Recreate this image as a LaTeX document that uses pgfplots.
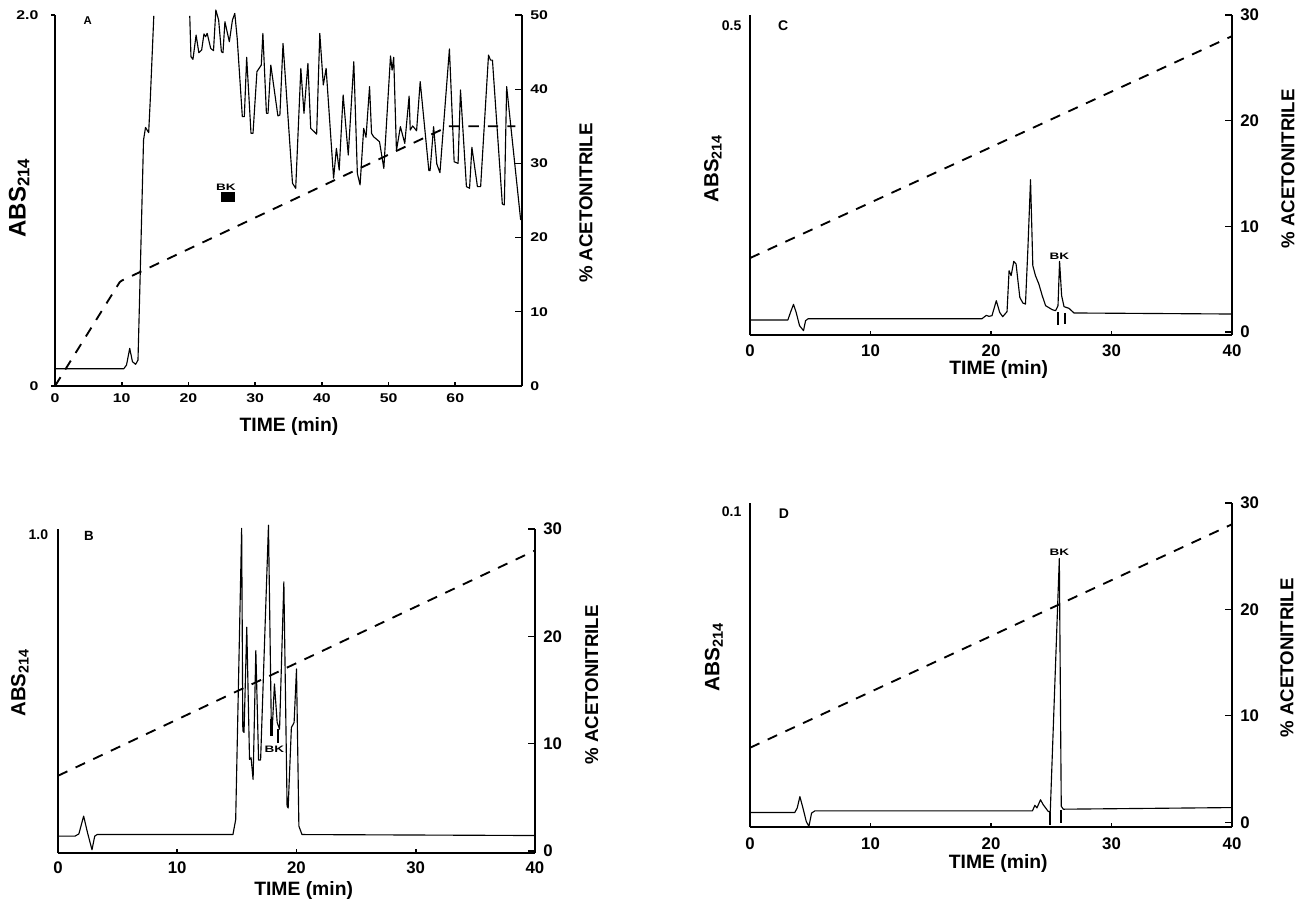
\documentclass[border=0pt]{standalone}
\usepackage{pgfplots}
\pgfplotsset{compat=1.18}
\usepackage{fontspec}
\setmainfont{Liberation Sans}
\newcommand{\fs}[1]{\fontsize{#1}{#1}\selectfont\bfseries}
\tikzset{
 bk/.style={font=\fs{7pt},xscale=1.45,transform shape,inner sep=0pt},
 letter/.style={font=\fs{#1},inner sep=0pt},
 trace/.style={black,line width=0.85pt,line join=round},
 grad/.style={black,line width=1.4pt,dash pattern=on 7.8pt off 6.8pt},
 arrowbar/.style={black,line width=1.6pt}
}
\pgfplotsset{
 lft/.style={scale only axis, clip=false, anchor=south west, no markers,
  axis y line*=left, axis x line*=bottom,
  axis line style={line width=1.5pt,-,black},
  xtick pos=bottom, ytick pos=left, xtick align=inside, ytick align=outside,
  x tick style={line width=1.2pt,black,/pgfplots/major tick length=3pt},
  y tick style={line width=0.8pt,black,/pgfplots/major tick length=0pt},
  yticklabel style={inner sep=0pt,xshift=-2pt},
  xticklabel style={inner sep=0pt}},
 rgt/.style={scale only axis, clip=false, anchor=south west, no markers,
  axis x line=none, axis y line*=right,
  axis line style={line width=1.5pt,-,black},
  ytick pos=right, ytick align=inside,
  y tick style={line width=1pt,black,/pgfplots/major tick length=5pt},
  yticklabel style={inner sep=0pt}}
}
\begin{document}
\begin{tikzpicture}
\path (0,0) rectangle (981.75pt,-677.25pt);

%% ---------- Panel A ----------
\begin{axis}[lft, at={(41.25pt,-289.5pt)}, width=350.25pt, height=278.25pt,
  xmin=0,xmax=70,ymin=0,ymax=2,
  xtick={0,10,20,30,40,50,60}, xticklabels={0,10,20,30,40,50,60},
  ytick={0,2}, yticklabels={0,2.0},
  y tick style={line width=0.8pt,black,/pgfplots/major tick length=3pt},
  ticklabel style={font=\fs{9.5pt}},
  yticklabel style={xshift=-6pt,xscale=1.25,transform shape},
  xticklabel style={yshift=-5.6pt,xscale=1.25,transform shape},
  xlabel={TIME (min)}, ylabel={ABS\textsubscript{214}},
  xlabel style={font=\fs{14.5pt},at={(axis description cs:0.501,-0.108)},anchor=center},
  ylabel style={font=\fs{18pt},at={(axis description cs:-0.077,0.507)},anchor=center}]
\addplot[trace] coordinates {(0,0.093)(10.31,0.093)(10.72,0.113)(11.2,0.203)(11.61,0.131)(12.09,0.117)(12.44,0.14)(12.8,0.643)(13.27,1.326)(13.57,1.394)(14.04,1.366)(14.28,1.542)(14.81,1.995)};
\addplot[trace] coordinates {(20.2,1.995)(20.38,1.775)(20.68,1.761)(21.15,1.892)(21.56,1.797)(21.98,1.811)(22.33,1.898)(22.57,1.883)(22.81,1.901)(23.34,1.82)(23.76,1.808)(24.11,2.027)(24.53,1.973)(24.94,1.802)(25.18,1.797)(25.47,1.964)(26.13,1.856)(26.6,1.973)(26.95,2.009)(27.31,1.874)(28.08,1.452)(28.38,1.452)(28.73,1.772)(29.38,1.362)(29.68,1.362)(30.27,1.695)(30.92,1.73)(31.16,1.901)(31.69,1.47)(31.93,1.47)(32.35,1.73)(33.41,1.456)(33.71,1.461)(34.18,1.847)(35.6,1.093)(36.08,1.066)(36.85,1.712)(37.32,1.47)(37.91,1.739)(38.33,1.389)(39.22,1.358)(39.69,1.901)(40.22,1.623)(40.64,1.712)(41.76,1.12)(42.18,1.281)(42.6,1.164)(43.19,1.569)(43.96,1.245)(44.79,1.748)(45.32,1.146)(45.73,1.084)(46.27,1.389)(46.62,1.341)(47.15,1.614)(47.45,1.362)(47.75,1.344)(48.64,1.317)(49.29,1.173)(50.29,1.779)(50.53,1.703)(50.77,1.772)(51.18,1.269)(51.77,1.398)(52.43,1.308)(53.08,1.563)(53.25,1.38)(53.61,1.402)(54.2,1.376)(54.74,1.641)(56.04,1.161)(56.22,1.161)(56.75,1.398)(57.23,1.197)(57.7,1.15)(59.12,1.817)(59.83,1.209)(60.42,1.2)(60.78,1.596)(61.67,1.075)(62.14,1.066)(62.49,1.287)(63.32,1.075)(63.8,1.075)(64.98,1.784)(65.28,1.757)(65.57,1.757)(67.05,0.981)(67.35,0.976)(67.7,1.614)(69.8,0.895)};
\addplot[black,line width=7.5pt] coordinates {(24.85,1.017)(26.95,1.017)};
\node[letter=8.5pt] at (axis cs:4.9,1.968) {A};
\node[bk] at (axis cs:25.6,1.069) {BK};
\end{axis}
\begin{axis}[rgt, at={(41.25pt,-289.5pt)}, width=350.25pt, height=278.25pt,
  xmin=0,xmax=70,ymin=0,ymax=50,
  ytick={0,10,20,30,40,50}, yticklabels={0,10,20,30,40,50},
  yticklabel style={font=\fs{9.5pt},xshift=6pt,xscale=1.25,transform shape},
  ylabel={\% ACETONITRILE},
  ylabel style={font=\fs{14pt},at={(axis description cs:1.137,0.493)},anchor=center}]
\addplot[grad] coordinates {(0,0)(9.7,14)(10,14.2)(59,35)(69,35)};
\end{axis}

%% ---------- Panel B ----------
\begin{axis}[lft, at={(43.5pt,-639.75pt)}, width=357.75pt, height=243pt,
  xmin=0,xmax=40,ymin=0,ymax=1,
  xtick={0,10,20,30,40}, xticklabels={0,10,20,30,40},
  ytick={1}, yticklabels={1.0},
  ticklabel style={font=\fs{12.6pt}},
  yticklabel style={font=\fs{10.5pt},yshift=-4.5pt,xshift=-1pt},
  xticklabel style={yshift=-6pt},
  xlabel={TIME (min)}, ylabel={ABS\textsubscript{214}},
  xlabel style={font=\fs{14.5pt},at={(axis description cs:0.515,-0.116)},anchor=center},
  ylabel style={font=\fs{15.3pt},at={(axis description cs:-0.08,0.525)},anchor=center}]
\addplot[trace] coordinates {(0,0.052)(1.42,0.052)(1.75,0.059)(2.15,0.114)(2.48,0.062)(2.85,0.01)(3.08,0.052)(3.28,0.057)(14.67,0.057)(14.9,0.103)(15.4,1.002)(15.5,0.377)(15.6,0.372)(15.83,0.697)(16.06,0.289)(16.19,0.294)(16.36,0.227)(16.59,0.625)(16.82,0.287)(16.99,0.287)(17.65,1.012)(17.88,0.413)(17.98,0.393)(18.15,0.522)(18.38,0.403)(18.58,0.382)(18.94,0.837)(19.21,0.145)(19.3,0.139)(19.57,0.387)(19.8,0.403)(20.0,0.568)(20.2,0.083)(20.46,0.057)(40,0.054)};
\addplot[arrowbar] coordinates {(17.9,0.413)(17.9,0.362)};
\addplot[arrowbar] coordinates {(18.48,0.382)(18.48,0.341)};
\node[letter=10pt] at (axis cs:2.6,0.978) {B};
\node[bk] at (axis cs:18.15,0.32) {BK};
\end{axis}
\begin{axis}[rgt, at={(43.5pt,-639.75pt)}, width=357.75pt, height=243pt,
  xmin=0,xmax=40,ymin=-0.2,ymax=30,
  ytick={0,10,20,30}, yticklabels={0,10,20,30},
  yticklabel style={font=\fs{12.6pt},xshift=6pt},
  ylabel={\% ACETONITRILE},
  ylabel style={font=\fs{14pt},at={(axis description cs:1.119,0.519)},anchor=center}]
\addplot[grad] coordinates {(0,7)(40,28)};
\end{axis}

%% ---------- Panel C ----------
\begin{axis}[lft, at={(562.5pt,-251.25pt)}, width=361.5pt, height=240pt,
  xmin=0,xmax=40,ymin=0,ymax=0.5,
  xtick={0,10,20,30,40}, xticklabels={0,10,20,30,40},
  ytick={0.5}, yticklabels={0.5},
  ticklabel style={font=\fs{12.6pt}},
  yticklabel style={font=\fs{10.5pt},yshift=-8.25pt,xshift=0pt},
  xticklabel style={yshift=-6.75pt},
  xlabel={TIME (min)}, ylabel={ABS\textsubscript{214}},
  xlabel style={font=\fs{14.5pt},at={(axis description cs:0.516,-0.109)},anchor=center},
  ylabel style={font=\fs{15.3pt},at={(axis description cs:-0.077,0.52)},anchor=center}]
\addplot[trace] coordinates {(0,0.0234)(3.14,0.0234)(3.36,0.0354)(3.61,0.0479)(3.83,0.0354)(4.11,0.0146)(4.44,0.0068)(4.61,0.0224)(4.83,0.0255)(19.25,0.0255)(19.61,0.0307)(19.83,0.0292)(20.08,0.0302)(20.44,0.0536)(20.72,0.0354)(20.97,0.0286)(21.33,0.0365)(21.5,0.1005)(21.67,0.0927)(21.89,0.1151)(22.08,0.1109)(22.39,0.0589)(22.64,0.05)(22.86,0.0484)(23.06,0.1344)(23.28,0.2427)(23.47,0.1083)(23.69,0.0927)(23.97,0.0797)(24.25,0.0615)(24.53,0.0458)(25.08,0.0396)(25.36,0.038)(25.56,0.0458)(25.69,0.1151)(25.86,0.0615)(26.06,0.0443)(26.47,0.0417)(26.89,0.0344)(27.11,0.0344)(40,0.0328)};
\addplot[arrowbar] coordinates {(25.58,0.0359)(25.58,0.0156)};
\addplot[arrowbar] coordinates {(26.17,0.0344)(26.17,0.0172)};
\node[letter=10.5pt] at (axis cs:2.75,0.483) {C};
\node[bk] at (axis cs:25.67,0.123) {BK};
\end{axis}
\begin{axis}[rgt, at={(562.5pt,-251.25pt)}, width=361.5pt, height=240pt,
  xmin=0,xmax=40,ymin=-0.28,ymax=30,
  ytick={0,10,20,30}, yticklabels={0,10,20,30},
  yticklabel style={font=\fs{12.6pt},xshift=6pt},
  ylabel={\% ACETONITRILE},
  ylabel style={font=\fs{14pt},at={(axis description cs:1.116,0.519)},anchor=center}]
\addplot[grad] coordinates {(0,7)(40,28)};
\end{axis}

%% ---------- Panel D ----------
\begin{axis}[lft, at={(562.5pt,-620.25pt)}, width=361.5pt, height=243pt,
  xmin=0,xmax=40,ymin=0,ymax=0.1,
  xtick={0,10,20,30,40}, xticklabels={0,10,20,30,40},
  ytick={0.1}, yticklabels={0.1},
  ticklabel style={font=\fs{12.6pt}},
  yticklabel style={font=\fs{10.5pt},yshift=-6.75pt,xshift=0pt},
  xticklabel style={yshift=-7.5pt},
  xlabel={TIME (min)}, ylabel={ABS\textsubscript{214}},
  xlabel style={font=\fs{14.5pt},at={(axis description cs:0.515,-0.114)},anchor=center},
  ylabel style={font=\fs{15.6pt},at={(axis description cs:-0.075,0.525)},anchor=center}]
\addplot[trace] coordinates {(0,0.0045)(3.72,0.0045)(3.92,0.0059)(4.14,0.0094)(4.39,0.0059)(4.67,0.0017)(4.89,0.0002)(5.11,0.0043)(5.39,0.005)(23.44,0.005)(23.64,0.0067)(23.81,0.0059)(24.11,0.0084)(24.33,0.0069)(24.75,0.0048)(24.92,0.0048)(25.67,0.0829)(25.83,0.0064)(26.0,0.0055)(40,0.006)};
\addplot[arrowbar] coordinates {(24.9,0.0046)(24.9,0.0006)};
\addplot[arrowbar] coordinates {(25.8,0.0052)(25.8,0.0012)};
\node[letter=10.5pt] at (axis cs:2.82,0.0966) {D};
\node[bk] at (axis cs:25.67,0.0849) {BK};
\end{axis}
\begin{axis}[rgt, at={(562.5pt,-620.25pt)}, width=361.5pt, height=243pt,
  xmin=0,xmax=40,ymin=-0.45,ymax=30,
  ytick={0,10,20,30}, yticklabels={0,10,20,30},
  yticklabel style={font=\fs{12.6pt},xshift=6pt},
  ylabel={\% ACETONITRILE},
  ylabel style={font=\fs{14pt},at={(axis description cs:1.114,0.522)},anchor=center}]
\addplot[grad] coordinates {(0,7)(40,28)};
\end{axis}
\end{tikzpicture}
\end{document}
